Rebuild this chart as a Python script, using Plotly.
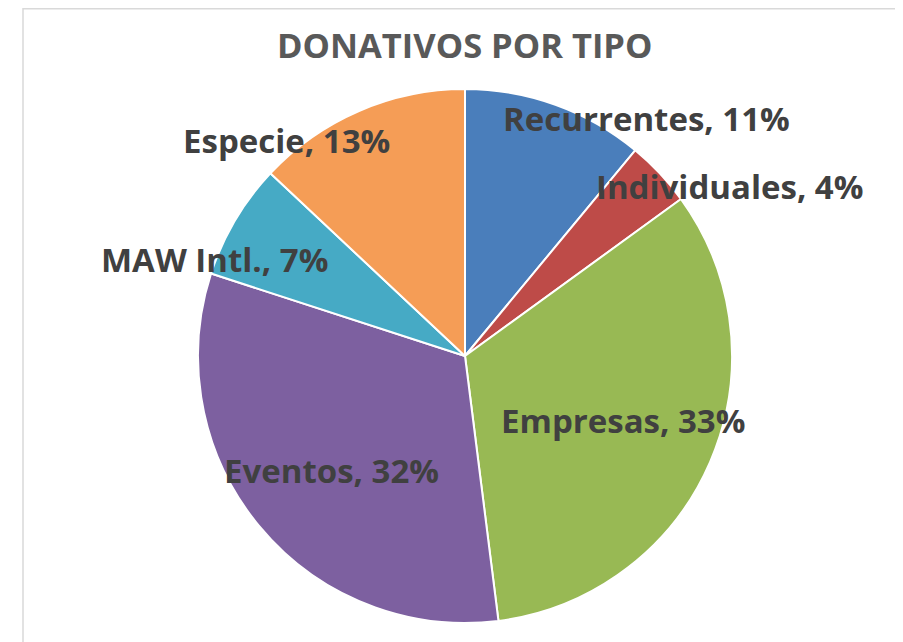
import plotly.graph_objects as go

categories = ["Recurrentes", "Individuales", "Empresas", "Eventos", "MAW Intl.", "Especie"]
values = [11, 4, 33, 32, 7, 13]
colors = ["#4A7EBB", "#BE4B48", "#98B954", "#7D60A0", "#46AAC5", "#F59D56"]
title_text = "DONATIVOS POR TIPO"

# label anchor positions in screen pixels (style)
label_px = [(646, 118), (729, 186), (623, 420), (331, 470), (214, 260), (286, 140)]

OFF = 8  # page body margin
W, H = 903 - OFF, 642 - OFF
cx, cy, r = 465 - OFF, 356 - OFF, 267


def px_x(x):
    return (x - OFF) / W


def px_y(y):
    return 1 - (y - OFF) / H


fig = go.Figure(go.Pie(
    labels=categories,
    values=values,
    sort=False,
    direction="clockwise",
    rotation=0,
    marker=dict(colors=colors, line=dict(color="white", width=2)),
    textinfo="none",
    hoverinfo="label+percent",
    domain=dict(x=[(cx - r) / W, (cx + r) / W], y=[(H - cy - r) / H, (H - cy + r) / H]),
    showlegend=False,
))

font = "'Open Sans', sans-serif"
annotations = []
for cat, v, (px, py) in zip(categories, values, label_px):
    annotations.append(dict(
        x=px_x(px), y=px_y(py), xref="paper", yref="paper",
        text=f"<b>{cat}, {v}%</b>", showarrow=False,
        font=dict(family=font, size=33, color="#404040"),
        xanchor="center", yanchor="middle",
    ))
annotations.append(dict(
    x=px_x(465), y=px_y(45), xref="paper", yref="paper",
    text=f"<b>{title_text}</b>", showarrow=False,
    font=dict(family=font, size=34.5, color="#595959"),
    xanchor="center", yanchor="middle",
))

fig.update_layout(
    width=W, height=H,
    margin=dict(l=0, r=0, t=0, b=0),
    paper_bgcolor="white",
    annotations=annotations,
    shapes=[dict(type="rect", xref="paper", yref="paper",
                 x0=px_x(23), x1=px_x(897), y0=-0.02, y1=0.999,
                 line=dict(color="#D9D9D9", width=1.5))],
)

fig.write_html("out.html")
